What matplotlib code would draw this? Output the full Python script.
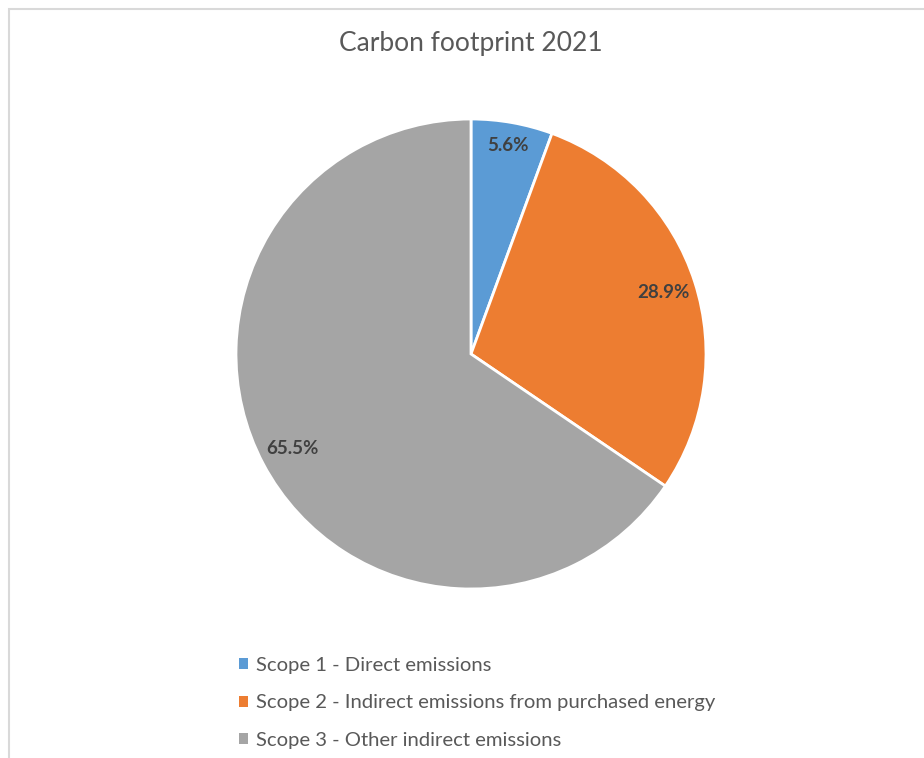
import numpy as np
import matplotlib
matplotlib.use("Agg")
from matplotlib import pyplot as plt
from matplotlib.patches import Rectangle

title = "Carbon footprint 2021"
labels = ["Scope 1 - Direct emissions",
          "Scope 2 - Indirect emissions from purchased energy",
          "Scope 3 - Other indirect emissions"]
shares = [5.6, 28.9, 65.5]
colors = ["#5B9BD5", "#ED7D31", "#A5A5A5"]

plt.rcParams['font.family'] = ['Lato', 'DejaVu Sans']

fig = plt.figure(figsize=(9.24, 7.58), dpi=100)

# chart frame (light grey border, cropped at right/bottom)
fig.patches.append(Rectangle((9 / 924, -0.05), 1.0, 1 - 9 / 758 + 0.05,
                             transform=fig.transFigure, fill=False,
                             edgecolor="#D9D9D9", linewidth=1.5))

# pie: centre (471, 354) px, radius 235 px
cx, cy, r = 471, 354, 235
ax = fig.add_axes([(cx - r) / 924, 1 - (cy + r) / 758, 2 * r / 924, 2 * r / 758])

wedges, texts, autotexts = ax.pie(
    shares, colors=colors, startangle=90, counterclock=False,
    autopct="%.1f%%", pctdistance=0.86,
    wedgeprops=dict(edgecolor="white", linewidth=2),
    textprops=dict(color="#404040", fontsize=13.5, fontweight="bold"))
ax.set_aspect("equal")
ax.set_xlim(-1, 1)
ax.set_ylim(-1, 1)

# small wedge label sits a bit further out
for w, t, d in zip(wedges, autotexts, [0.90, 0.86, 0.86]):
    ang = np.deg2rad((w.theta1 + w.theta2) / 2)
    t.set_position((d * np.cos(ang), d * np.sin(ang)))

fig.text(cx / 924, 1 - 44 / 758, title, ha="center", va="center",
         fontsize=19, color="#595959")

handles = [Rectangle((0, 0), 1, 1, facecolor=c, edgecolor="none") for c in colors]
fig.legend(handles, labels, loc="upper left",
           bbox_to_anchor=(229 / 924, 1 - 647 / 758),
           frameon=False, fontsize=14.6, labelcolor="#595959",
           handlelength=0.45, handleheight=0.45, handletextpad=0.4,
           labelspacing=1.0, borderpad=0)

fig.savefig("out.png", dpi=100)
